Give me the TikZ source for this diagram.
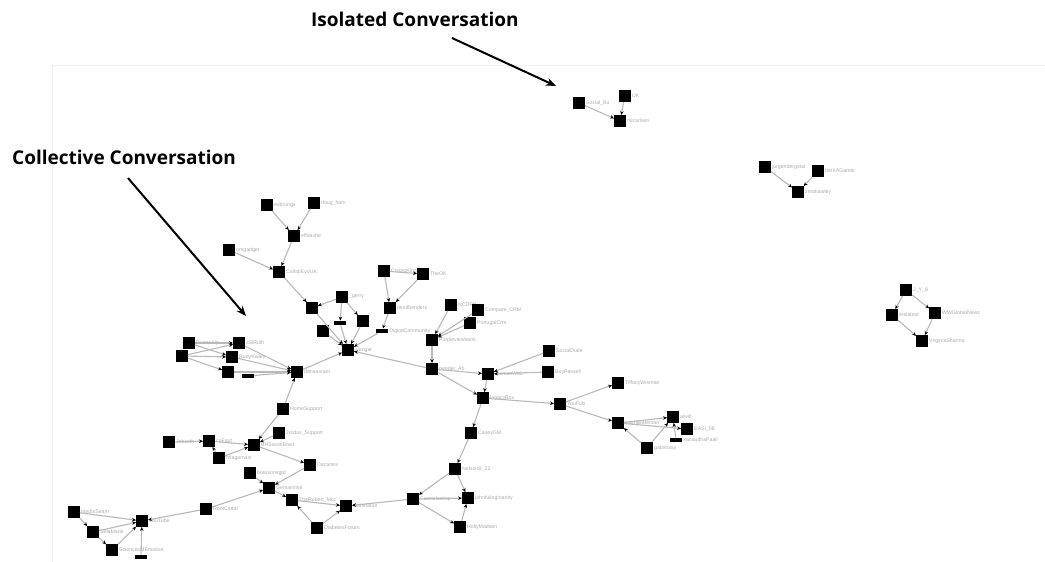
\documentclass[tikz,border=0pt]{standalone}
\usepackage{fontspec}
\newfontfamily\headfont{Open Sans}
\newfontfamily\tinyfont{Liberation Sans}
\usetikzlibrary{arrows.meta}
\tikzset{
  sq/.style={fill=black, minimum size=11.5pt, inner sep=0pt},
  bar/.style={fill=black, minimum width=12pt, minimum height=4.5pt, inner sep=0pt},
  lbl/.style={text=gray!65, font=\tinyfont\fontsize{5.2}{6}\selectfont, inner sep=1pt},
  ed/.style={draw=gray!55, line width=1.1pt, -{Stealth[length=4pt,width=3.5pt,black]}},
  title/.style={font=\headfont\bfseries\fontsize{19}{22}\selectfont, anchor=west, inner sep=0pt},
  pointer/.style={line width=2pt, -{Stealth[length=10pt,width=8pt]}}
}
% \pnode[style]{name}{x}{y}{label}
\newcommand\pnode[5][sq]{\node[#1,label={[lbl]right:#5}] (#2) at (#3,-#4) {};}
\begin{document}
\begin{tikzpicture}[x=1pt,y=1pt]
\useasboundingbox (0,0) rectangle (1045,-562);
\fill[white] (0,0) rectangle (1045,-562);
% faint plot frame
\coordinate (fr1) at (52,-562);
\coordinate (fr2) at (52,-65);
\coordinate (fr3) at (1045,-65);
\draw[gray!12, line width=0.8pt] (fr1) -- (fr2) -- (fr3);

% headings and pointers
\node[title] (t1) at (311,-19) {Isolated Conversation};
\node[title] (t2) at (12,-157) {Collective Conversation};
\coordinate (p1a) at (452,-38);
\coordinate (p1b) at (556,-86);
\coordinate (p2a) at (128,-178);
\coordinate (p2b) at (246,-316);
\draw[pointer] (p1a) -- (p1b);
\draw[pointer] (p2a) -- (p2b);

% isolated conversation
\pnode{A1}{579}{103}{Social\_Bu}
\pnode{A2}{625}{96}{UK}
\pnode{A3}{620}{121}{micarlsen}
% small clusters on the right
\pnode{B1}{765}{167}{jurgenbergstal}
\pnode{B2}{818}{171}{theXAGamer}
\pnode{B3}{798}{192}{zmahawley}
\pnode{C1}{906}{290}{J\_Y\_8}
\pnode{C2}{892}{315}{emlatest}
\pnode{C3}{935}{313}{WWGlobalNews}
\pnode{C4}{922}{341}{VirginiaSharma}

% collective conversation
\pnode{D1}{267}{205}{evbrungs}
\pnode{D2}{314}{203}{doug\_ham}
\pnode{D3}{294}{236}{effdache}
\pnode{D4}{229}{250}{omgadget}
\pnode{D5}{279}{272}{CollabEvoUK}
\pnode{E1}{312}{308}{}
\pnode{E2}{342}{297}{\_gerry}
\pnode[bar]{E3}{340}{323}{}
\pnode{E4}{363}{321}{}
\pnode{E5}{323}{331}{}
\pnode{E6}{348}{350}{iyengar}
\pnode[bar]{E7}{382}{331}{DigitalCommunity}
\pnode{F1}{384}{271}{CryptoKing}
\pnode{F2}{423}{274}{TheOK}
\pnode{F3}{390}{308}{mindbenders}
\pnode{G1}{451}{305}{NCDRB}
\pnode{G2}{478}{310}{Compare\_CRM}
\pnode{G3}{470}{323}{PortugalCrm}
\pnode{G4}{432}{340}{Purpleviewbank}
\pnode{H}{432}{369}{pender\_Ab}
\pnode{I1}{488}{374}{JurmanWeb}
\pnode{I2}{549}{351}{SocialDude}
\pnode{I3}{548}{372}{BuyPassell}
\pnode{J}{483}{398}{legacyBox}
\pnode{J2}{560}{404}{YouFub}
\pnode{J3}{618}{383}{TiffanyWinman}
\pnode{K1}{618}{423}{LauraBateman}
\pnode{K2}{673}{417}{alwill}
\pnode{K3}{687}{429}{EASI\_08}
\pnode[bar]{K4}{676}{440}{xanaudhaPaali}
\pnode{K5}{647}{448}{gabimasy}
\pnode{L}{471}{433}{CaseyGM}
\pnode{M}{455}{469}{NelsonB\_22}
\pnode{M2}{413}{499}{Carmelocrisp}
\pnode{M3}{468}{498}{johnfulingInanity}
\pnode{M4}{460}{527}{HollyMadsen}
\pnode{N}{346}{506}{diabetatun}
\pnode{O1}{317}{528}{DiabetesForum}
\pnode{O2}{269}{488}{Gemainline}
\pnode{O3}{250}{473}{bransonsgtd}
\pnode{O5}{310}{465}{Dacartes}
\pnode{O6}{292}{500}{TheRobert\_Mcc}
\pnode{P}{297}{372}{daneasram}
\pnode{P2}{283}{409}{HomeSupport}
\pnode{P3}{279}{433}{Jordus\_Support}
\pnode{P4}{254}{445}{BHSocialBoxIt}
\pnode{P5}{209}{441}{coFaut}
\pnode{P6}{169}{442}{Jobseth}
\pnode{P7}{219}{458}{mlagomain}
\pnode{Q1}{189}{343}{DuaneAlp}
\pnode{Q2}{239}{343}{sSlRuth}
\pnode{Q3}{182}{356}{}
\pnode{Q4}{232}{357}{RudyKailey}
\pnode{Q5}{228}{372}{}
\pnode[bar]{Q6}{248}{376}{}
\pnode{R}{142}{521}{YouTube}
\pnode{R2}{74}{512}{mediaSeam}
\pnode{R3}{93}{532}{SelaMarie}
\pnode{R4}{112}{550}{SciencesMEmotiva}
\pnode[bar]{R5}{141}{557}{}
\pnode{S}{206}{509}{RootCattal}

% connectors
\foreach \a/\b in {A1/A3,A2/A3,B1/B3,B2/B3,C1/C2,C1/C3,C2/C4,C3/C4,
  D1/D3,D2/D3,D3/D5,D4/D5,D5/E1,E1/E6,E2/E1,E2/E3,E2/E4,E3/E6,E4/E6,E5/E6,E7/E6,F3/E7,
  F1/F3,F2/F3,F1/F2,G1/G4,G2/G4,G3/G4,G4/H,H/E6,
  H/I1,I2/I1,I3/I1,I1/J,H/J,J/J2,J2/J3,J2/K1,K1/K2,K1/K3,K5/K2,K5/K1,K4/K2,
  J/L,L/M,M/M2,M/M3,M2/M3,M2/M4,M4/M3,M2/N,
  O6/N,O1/N,O1/O6,O2/O6,O3/O2,O5/O2,S/O2,P4/O5,P7/P4,
  P2/P,P2/P4,P3/P4,P5/P4,P6/P5,P7/P5,P/E6,
  Q1/Q2,Q1/Q4,Q3/Q2,Q3/Q5,Q3/Q4,Q4/P,Q2/P,Q5/P,Q6/P,
  S/R,R2/R,R3/R,R4/R,R2/R3,R3/R4,R5/R}
  \draw[ed] (\a) -- (\b);
\end{tikzpicture}
\end{document}
